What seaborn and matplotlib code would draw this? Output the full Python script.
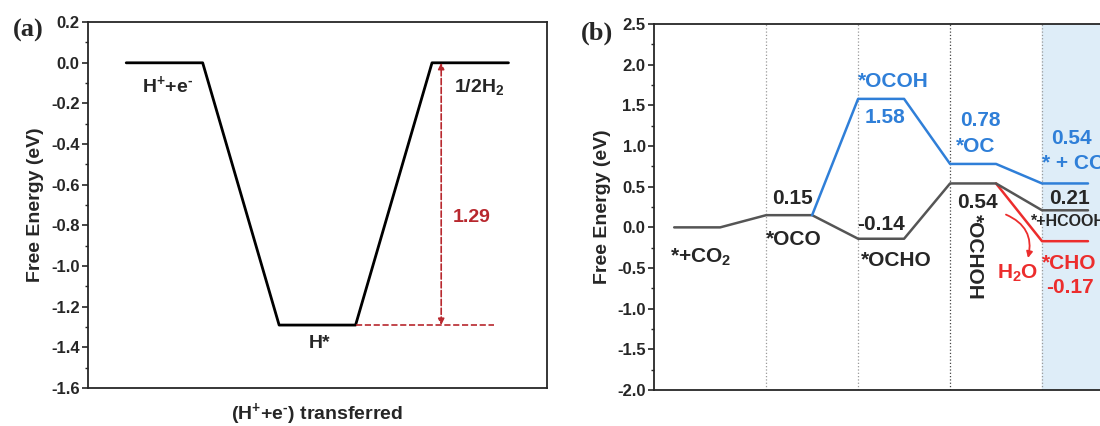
import numpy as np
import pandas as pd
import matplotlib
matplotlib.use("Agg")
import matplotlib.pyplot as plt
from matplotlib.ticker import MultipleLocator, FormatStrFormatter
import seaborn as sns

# panel (a): HER free energy diagram
a_states = ["H$^{+}$+e$^{\u2010}$", "H*", "1/2H$_{2}$"]
a_energy = [0.0, -1.29, 0.0]

# panel (b): CO2 reduction paths
b_gray_steps = [0, 1, 2, 3, 4]
b_gray_energy = [0.0, 0.15, -0.14, 0.54, 0.21]
b_blue_steps = [1, 2, 3, 4]
b_blue_energy = [0.15, 1.58, 0.78, 0.54]
b_red_steps = [3, 4]
b_red_energy = [0.54, -0.17]

GRAY = "#555555"
BLUE = "#2f7fd8"
RED = "#ec2d2d"
DARKRED = "#b8282e"


def step_path(steps, energies, width):
    xs, ys = [], []
    for s, e in zip(steps, energies):
        xs += [s, s + width]
        ys += [e, e]
    return pd.DataFrame({"x": xs, "y": ys})


sns.set_style("ticks")
plt.rcParams["font.family"] = ["Liberation Sans", "DejaVu Sans"]
plt.rcParams["font.weight"] = "bold"
plt.rcParams["axes.labelweight"] = "bold"
plt.rcParams["axes.linewidth"] = 1.3
plt.rcParams["mathtext.fontset"] = "custom"
plt.rcParams["mathtext.rm"] = "Liberation Sans:bold"
plt.rcParams["mathtext.it"] = "Liberation Sans:bold"
plt.rcParams["mathtext.bf"] = "Liberation Sans:bold"
plt.rcParams["mathtext.default"] = "rm"

fig = plt.figure(figsize=(11, 4.26), dpi=100)
ax1 = fig.add_axes([0.08, 0.089, 0.417, 0.859])
ax2 = fig.add_axes([0.5945, 0.0845, 0.418, 0.859])

# ---------- (a) ----------
da = step_path([0, 2, 4], a_energy, 1)
sns.lineplot(data=da, x="x", y="y", sort=False, estimator=None, color="black",
             lw=2.0, ax=ax1)
ax1.plot([3, 4.81], [a_energy[1], a_energy[1]], ls="--", color=DARKRED, lw=1.2)
ax1.annotate("", xy=(4.12, a_energy[2]), xytext=(4.12, a_energy[1]),
             arrowprops=dict(arrowstyle="<|-|>", color=DARKRED, lw=1.2, ls="--",
                             mutation_scale=9, shrinkA=0, shrinkB=0))
ax1.text(4.27, -0.76, "1.29", color=DARKRED, fontsize=14, fontweight="bold",
         ha="left", va="center")
ax1.text(0.54, -0.11, a_states[0], fontsize=14, ha="center", va="center")
ax1.text(2.53, -1.38, a_states[1], fontsize=14, ha="center", va="center")
ax1.text(4.62, -0.12, a_states[2], fontsize=14, ha="center", va="center")

ax1.set_xlim(-0.5, 5.5)
ax1.set_ylim(-1.6, 0.2)
ax1.yaxis.set_major_locator(MultipleLocator(0.2))
ax1.yaxis.set_minor_locator(MultipleLocator(0.1))
ax1.yaxis.set_major_formatter(FormatStrFormatter("%.1f"))
ax1.set_xticks([])
ax1.set_xlabel("(H$^{+}$+e$^{\u2010}$) transferred", fontsize=14, labelpad=9)
ax1.set_ylabel("Free Energy (eV)", fontsize=14, labelpad=5)
ax1.tick_params(axis="y", which="major", direction="out", length=4, width=1.2,
                labelsize=12, pad=2)
ax1.tick_params(axis="y", which="minor", direction="out", length=2.5, width=1.0)
fig.text(0.012, 0.928, "(a)", family=["Liberation Serif", "DejaVu Serif"],
         fontsize=19, fontweight="bold", va="center")

# ---------- (b) ----------
ax2.axvspan(4, 6, color="#deedf8", zorder=0)
for xv in [1, 2, 3, 4]:
    ax2.axvline(xv, color="#444444" if xv == 3 else "#999999", ls=":", lw=0.9,
                zorder=1)

dg = step_path(b_gray_steps, b_gray_energy, 0.5)
db = step_path(b_blue_steps, b_blue_energy, 0.5).iloc[1:]
dr = step_path(b_red_steps, b_red_energy, 0.5).iloc[1:]
sns.lineplot(data=dg, x="x", y="y", sort=False, estimator=None, color=GRAY,
             lw=1.8, ax=ax2, zorder=3)
sns.lineplot(data=db, x="x", y="y", sort=False, estimator=None, color=BLUE,
             lw=1.8, ax=ax2, zorder=3)
sns.lineplot(data=dr, x="x", y="y", sort=False, estimator=None, color=RED,
             lw=1.8, ax=ax2, zorder=2)

big = 15
ax2.text(0.29, -0.37, "*+CO$_{2}$", fontsize=big, ha="center", va="center")
ax2.text(1.29, 0.35, "%.2f" % b_gray_energy[1], fontsize=big, ha="center", va="center")
ax2.text(1.3, -0.15, "*OCO", fontsize=big, ha="center", va="center")
ax2.text(2.38, 1.79, "*OCOH", fontsize=big, ha="center", va="center", color=BLUE)
ax2.text(2.29, 1.35, "%.2f" % b_blue_energy[1], fontsize=big, ha="center", va="center",
         color=BLUE)
ax2.text(2.25, 0.03, "%.2f" % b_gray_energy[2], fontsize=big, ha="center", va="center")
ax2.text(2.42, -0.41, "*OCHO", fontsize=big, ha="center", va="center")
ax2.text(3.33, 1.32, "%.2f" % b_blue_energy[2], fontsize=big, ha="center", va="center",
         color=BLUE)
ax2.text(3.28, 0.99, "*OC", fontsize=big, ha="center", va="center", color=BLUE)
ax2.text(3.3, 0.31, "%.2f" % b_gray_energy[3], fontsize=big, ha="center", va="center")
ax2.text(3.26, -0.36, "*OCHOH", fontsize=big, ha="center", va="center",
         rotation=-90)
ax2.text(4.3, 0.35, "%.2f" % b_gray_energy[4], fontsize=big, ha="center", va="center")
ax2.text(3.88, 0.07, "*+HCOOH", fontsize=11.5, ha="left", va="center")
ax2.text(4.32, 1.09, "%.2f" % b_blue_energy[3], fontsize=big, ha="center", va="center",
         color=BLUE)
ax2.text(4.0, 0.79, "* + CO", fontsize=big, ha="left", va="center", color=BLUE)
ax2.text(3.73, -0.57, "H$_{2}$O", fontsize=big, ha="center", va="center", color=RED)
ax2.text(4.3, -0.45, "*CHO", fontsize=big, ha="center", va="center", color=RED)
ax2.text(4.3, -0.74, "%.2f" % b_red_energy[1], fontsize=big, ha="center", va="center",
         color=RED)
ax2.annotate("", xy=(3.84, -0.41), xytext=(3.58, 0.17),
             arrowprops=dict(arrowstyle="-|>", color=RED, lw=1.3,
                             connectionstyle="arc3,rad=-0.45", mutation_scale=9))

ax2.set_xlim(-0.22, 4.78)
ax2.set_ylim(-2.0, 2.5)
ax2.yaxis.set_major_locator(MultipleLocator(0.5))
ax2.yaxis.set_minor_locator(MultipleLocator(0.25))
ax2.yaxis.set_major_formatter(FormatStrFormatter("%.1f"))
ax2.set_xticks([])
ax2.set_xlabel("")
ax2.set_ylabel("Free Energy (eV)", fontsize=14, labelpad=4)
ax2.tick_params(axis="y", which="major", direction="out", length=4, width=1.2,
                labelsize=12, pad=2)
ax2.tick_params(axis="y", which="minor", direction="out", length=2.5, width=1.0)
fig.text(0.528, 0.923, "(b)", family=["Liberation Serif", "DejaVu Serif"],
         fontsize=19, fontweight="bold", va="center")

for ax in (ax1, ax2):
    for lab in ax.get_yticklabels():
        lab.set_fontweight("bold")

fig.savefig("out.png", dpi=100)
